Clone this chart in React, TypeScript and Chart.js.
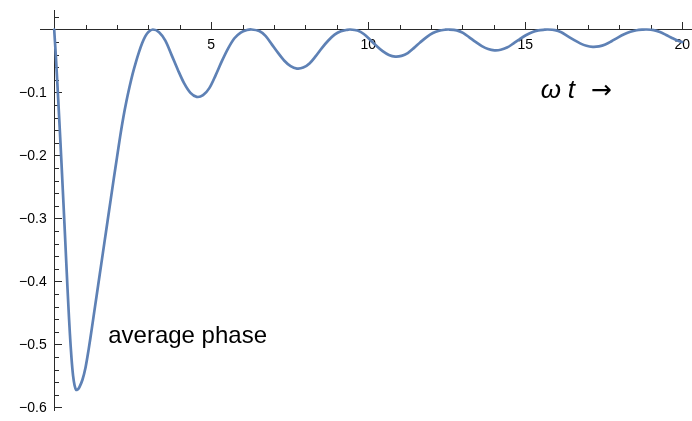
import React, { useEffect, useRef } from "react";
import { Chart, registerables } from "chart.js";

Chart.register(...registerables);

// ---- data ----
const tValues: number[] = [
  0, 0.05, 0.1, 0.15, 0.2, 0.25, 0.3, 0.35, 0.4, 0.45, 0.5, 0.55, 0.6, 0.65, 0.7, 0.75,
  0.8, 0.9, 1.0, 1.1, 1.2, 1.3, 1.4, 1.5, 1.6, 1.7, 1.8, 1.9, 2.0, 2.1, 2.2, 2.3,
  2.4, 2.5, 2.6, 2.7, 2.8, 2.9, 3.0, 3.1416,
  3.34, 3.54, 3.74, 3.94, 4.14, 4.34, 4.54, 4.74, 4.94, 5.14, 5.34, 5.54, 5.74, 5.94, 6.14, 6.283,
  6.53, 6.73, 6.93, 7.13, 7.33, 7.53, 7.73, 7.93, 8.13, 8.33, 8.53, 8.73, 8.93, 9.13, 9.33, 9.425,
  9.66, 9.86, 10.06, 10.26, 10.46, 10.66, 10.86, 11.06, 11.26, 11.46, 11.66, 11.86, 12.06, 12.26, 12.46, 12.566,
  12.82, 13.02, 13.22, 13.42, 13.62, 13.82, 14.02, 14.22, 14.42, 14.62, 14.82, 15.02, 15.22, 15.42, 15.62, 15.708,
  15.95, 16.15, 16.35, 16.55, 16.75, 16.95, 17.15, 17.35, 17.55, 17.75, 17.95, 18.15, 18.35, 18.55, 18.75, 18.85,
  19.09, 19.29, 19.49, 19.69, 19.89, 20.0,
];
const phaseValues: number[] = [
  0, -0.04, -0.085, -0.132, -0.18, -0.23, -0.281, -0.333, -0.386, -0.437, -0.483, -0.521, -0.549, -0.565, -0.572, -0.5715,
  -0.568, -0.556, -0.536, -0.507, -0.474, -0.44, -0.406, -0.372, -0.338, -0.304, -0.27, -0.236, -0.203, -0.17, -0.14, -0.114,
  -0.091, -0.07, -0.052, -0.036, -0.022, -0.011, -0.004, 0,
  -0.0043, -0.0177, -0.0407, -0.0642, -0.0856, -0.1006, -0.107, -0.1043, -0.0931, -0.0728, -0.0503, -0.03, -0.0139, -0.0048, -0.0009, 0,
  -0.0025, -0.0102, -0.0236, -0.0372, -0.0496, -0.0583, -0.062, -0.0605, -0.0539, -0.0422, -0.0291, -0.0174, -0.0081, -0.0028, -0.0005, 0,
  -0.0017, -0.0071, -0.0163, -0.0258, -0.0344, -0.0404, -0.043, -0.0419, -0.0374, -0.0292, -0.0202, -0.012, -0.0056, -0.0019, -0.0003, 0,
  -0.0013, -0.0054, -0.0125, -0.0198, -0.0264, -0.031, -0.033, -0.0322, -0.0287, -0.0224, -0.0155, -0.0092, -0.0043, -0.0015, -0.0003, 0,
  -0.0011, -0.0045, -0.0105, -0.0165, -0.022, -0.0259, -0.0275, -0.0268, -0.0239, -0.0187, -0.0129, -0.0077, -0.0036, -0.0012, -0.0002, 0,
  -0.0009, -0.0038, -0.0087, -0.0138, -0.0184, -0.02,
];

const xMajorTicks: number[] = [5, 10, 15, 20];
const xTickLabels: string[] = ["5", "10", "15", "20"];
const xMinorTicks: number[] = [1, 2, 3, 4, 6, 7, 8, 9, 11, 12, 13, 14, 16, 17, 18, 19];
const yMajorTicks: number[] = [-0.1, -0.2, -0.3, -0.4, -0.5, -0.6];
const yTickLabels: string[] = ["\u22120.1", "\u22120.2", "\u22120.3", "\u22120.4", "\u22120.5", "\u22120.6"];
const yMinorTicks: number[] = [
  0.02, -0.02, -0.04, -0.06, -0.08, -0.12, -0.14, -0.16, -0.18, -0.22, -0.24, -0.26, -0.28,
  -0.32, -0.34, -0.36, -0.38, -0.42, -0.44, -0.46, -0.48, -0.52, -0.54, -0.56, -0.58,
];
const curveLabel = "average phase";
const curveLabelAt = { t: 1.72, v: -0.498 };
const axisLabelParts: string[] = ["\u03c9", "t", "\u2192"];
const axisLabelAt = { t: 15.53, v: -0.1087 };

const LINE_COLOR = "#5E81B5";
const AXIS_COLOR = "#2a2a2a";
const FONT = "'Liberation Sans', Arial, sans-serif";

const axesPlugin = {
  id: "mmaAxes",
  beforeDatasetsDraw(chart: any) {
    const { ctx, chartArea } = chart;
    const xs = chart.scales.x;
    const ys = chart.scales.y;
    const x0 = xs.getPixelForValue(0);
    const y0 = ys.getPixelForValue(0);
    ctx.save();
    ctx.strokeStyle = AXIS_COLOR;
    ctx.lineWidth = 1;
    ctx.beginPath();
    ctx.moveTo(chartArea.left, Math.round(y0) + 0.5);
    ctx.lineTo(chartArea.right, Math.round(y0) + 0.5);
    ctx.moveTo(Math.round(x0) + 0.5, chartArea.top);
    ctx.lineTo(Math.round(x0) + 0.5, chartArea.bottom);
    ctx.stroke();

    const yl = Math.round(y0) + 0.5;
    const xl = Math.round(x0) + 0.5;
    ctx.beginPath();
    xMajorTicks.forEach((t) => {
      const p = Math.round(xs.getPixelForValue(t)) + 0.5;
      ctx.moveTo(p, yl);
      ctx.lineTo(p, yl - 7.5);
    });
    xMinorTicks.forEach((t) => {
      const p = Math.round(xs.getPixelForValue(t)) + 0.5;
      ctx.moveTo(p, yl);
      ctx.lineTo(p, yl - 4.5);
    });
    yMajorTicks.forEach((v) => {
      const p = Math.round(ys.getPixelForValue(v)) + 0.5;
      ctx.moveTo(xl, p);
      ctx.lineTo(xl + 7.5, p);
    });
    yMinorTicks.forEach((v) => {
      const p = Math.round(ys.getPixelForValue(v)) + 0.5;
      ctx.moveTo(xl, p);
      ctx.lineTo(xl + 4.5, p);
    });
    ctx.stroke();

    ctx.fillStyle = "#000";
    ctx.font = `14px ${FONT}`;
    ctx.textAlign = "center";
    ctx.textBaseline = "alphabetic";
    xMajorTicks.forEach((t, i) => {
      ctx.fillText(xTickLabels[i], xs.getPixelForValue(t), y0 + 19.5);
    });
    ctx.textAlign = "right";
    yMajorTicks.forEach((v, i) => {
      ctx.fillText(yTickLabels[i], x0 - 7.5, ys.getPixelForValue(v) + 5);
    });

    // curve label
    ctx.textAlign = "left";
    ctx.font = `24px ${FONT}`;
    ctx.fillText(curveLabel, xs.getPixelForValue(curveLabelAt.t), ys.getPixelForValue(curveLabelAt.v));

    // axis label "ω t →"
    const ax = xs.getPixelForValue(axisLabelAt.t);
    const ay = ys.getPixelForValue(axisLabelAt.v);
    ctx.font = `italic 26px ${FONT}`;
    ctx.fillText(axisLabelParts[0], ax - 1, ay);
    ctx.fillText(axisLabelParts[1], ax + 26, ay);
    ctx.font = `25px 'DejaVu Sans', sans-serif`;
    ctx.fillText(axisLabelParts[2], ax + 49, ay);
    ctx.restore();
  },
};

export default function App() {
  const canvasRef = useRef<HTMLCanvasElement | null>(null);

  useEffect(() => {
    if (!canvasRef.current) return;
    const points = tValues.map((t, i) => ({ x: t, y: phaseValues[i] }));
    const chart = new Chart(canvasRef.current, {
      type: "line",
      data: {
        datasets: [
          {
            data: points,
            borderColor: LINE_COLOR,
            borderWidth: 2.7,
            pointRadius: 0,
            fill: false,
            tension: 0.3,
            borderCapStyle: "round",
            borderJoinStyle: "round",
          },
        ],
      },
      options: {
        responsive: false,
        animation: false,
        devicePixelRatio: 1,
        layout: { padding: { left: 40, right: 0, top: 10, bottom: 10 } },
        plugins: { legend: { display: false }, tooltip: { enabled: false } },
        scales: {
          x: { type: "linear", min: -0.452, max: 20.312, display: false },
          y: { type: "linear", min: -0.6056, max: 0.03095, display: false },
        },
      },
      plugins: [axesPlugin],
    } as any);
    return () => chart.destroy();
  }, []);

  return (
    <div style={{ position: "fixed", left: 0, top: 0, width: 692, height: 421, background: "#fff" }}>
      <canvas ref={canvasRef} width={692} height={421} style={{ width: 692, height: 421, display: "block" }} />
    </div>
  );
}
